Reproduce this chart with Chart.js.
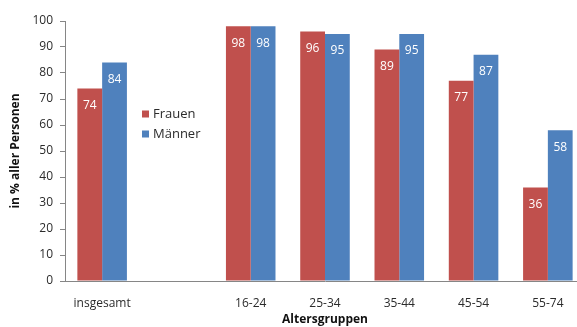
<!DOCTYPE html>
<html>
<head>
<meta charset="utf-8">
<script src="https://cdn.jsdelivr.net/npm/chart.js@4/dist/chart.umd.min.js"></script>
<style>
  html, body { margin: 0; padding: 0; background: #fff; overflow: hidden; }
  #wrap { width: 585px; height: 327px; position: relative; }
</style>
</head>
<body>
<div id="wrap"><canvas id="c"></canvas></div>
<script>
// Age groups (with an empty slot separating the overall value)
const categories = ['insgesamt', '', '16-24', '25-34', '35-44', '45-54', '55-74'];
const seriesNames = ['Frauen', 'Männer'];
const frauen = [74, null, 98, 96, 89, 77, 36];
const maenner = [84, null, 98, 95, 95, 87, 58];
const yTicks = [0, 10, 20, 30, 40, 50, 60, 70, 80, 90, 100];

const RED = '#C0504D';
const BLUE = '#4F81BD';
const FONT = '"Open Sans", "DejaVu Sans", sans-serif';
const TEXT = '#2b2b2b';
const AXIS = '#868686';

// White value labels inside the top of each bar
const valueLabels = {
  id: 'valueLabels',
  afterDatasetsDraw(chart) {
    const ctx = chart.ctx;
    ctx.save();
    ctx.fillStyle = '#ffffff';
    ctx.font = '12px ' + FONT;
    ctx.textAlign = 'center';
    ctx.textBaseline = 'middle';
    chart.data.datasets.forEach((ds, di) => {
      chart.getDatasetMeta(di).data.forEach((bar, i) => {
        const v = ds.data[i];
        if (v === null || v === undefined) return;
        ctx.fillText(String(v), bar.x, bar.y + 17);
      });
    });
    ctx.restore();
  }
};

// Legend drawn inside the plot area
const innerLegend = {
  id: 'innerLegend',
  afterDraw(chart, args, opts) {
    const ctx = chart.ctx;
    const x = chart.chartArea.left + opts.dx;
    let y = chart.chartArea.top + opts.dy;
    ctx.save();
    ctx.font = '13px ' + FONT;
    ctx.textBaseline = 'middle';
    ctx.textAlign = 'left';
    chart.data.datasets.forEach(ds => {
      ctx.fillStyle = ds.backgroundColor;
      ctx.fillRect(x, y - 3.5, 7, 7);
      ctx.fillStyle = TEXT;
      ctx.fillText(ds.label, x + 11, y);
      y += opts.gap;
    });
    ctx.restore();
  }
};

new Chart(document.getElementById('c'), {
  type: 'bar',
  data: {
    labels: categories,
    datasets: [
      { label: seriesNames[0], data: frauen, backgroundColor: RED },
      { label: seriesNames[1], data: maenner, backgroundColor: BLUE }
    ]
  },
  options: {
    responsive: true,
    maintainAspectRatio: false,
    animation: false,
    events: [],
    layout: { padding: { top: 21, right: 0, bottom: 0, left: 0 } },
    datasets: { bar: { categoryPercentage: 0.667, barPercentage: 1.0 } },
    plugins: {
      legend: { display: false },
      tooltip: { enabled: false },
      innerLegend: { dx: 77, dy: 93, gap: 20 }
    },
    scales: {
      x: {
        grid: { display: false },
        border: { display: true, color: AXIS, width: 1 },
        ticks: { color: TEXT, font: { family: FONT, size: 12 }, padding: 7, maxRotation: 0, autoSkip: false },
        title: { display: true, text: 'Altersgruppen', color: '#111', font: { family: FONT, size: 12, weight: 'bold' }, padding: { top: 0, bottom: 0 } },
        afterFit(s) { s.height = 46; }
      },
      y: {
        min: 0,
        max: 100,
        afterBuildTicks(s) { s.ticks = yTicks.map(v => ({ value: v })); },
        grid: { display: true, drawOnChartArea: false, drawTicks: true, tickLength: 5, color: AXIS },
        border: { display: true, color: AXIS, width: 1 },
        ticks: { color: TEXT, font: { family: FONT, size: 12 }, padding: 7 },
        title: { display: true, text: 'in % aller Personen', color: '#111', font: { family: FONT, size: 12, weight: 'bold' }, padding: { top: 8, bottom: 0 } },
        afterFit(s) { s.width = 65; }
      }
    }
  },
  plugins: [valueLabels, innerLegend]
});
</script>
</body>
</html>
